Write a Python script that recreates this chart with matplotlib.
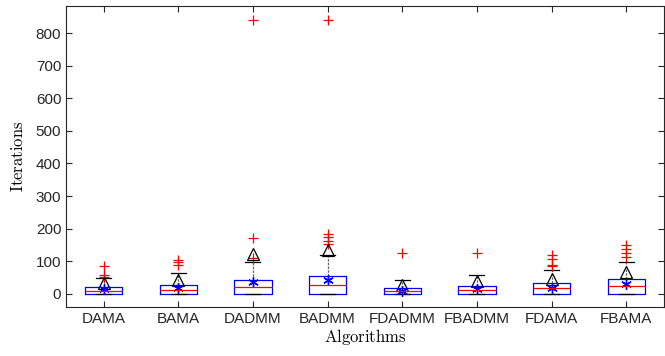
import numpy as np
import matplotlib.pyplot as plt

plt.rcParams['mathtext.fontset'] = 'cm'

algorithms = ['DAMA', 'BAMA', 'DADMM', 'BADMM', 'FDADMM', 'FBADMM', 'FDAMA', 'FBAMA']

# box statistics
whisker_lo = [0, 0, 0, 0, 0, 0, 0, 0]
q1 = [1, 1, 1, 1, 1, 1, 1, 1]
medians = [9, 13, 20, 28, 10, 13, 17, 25]
q3 = [20, 28, 42, 54, 18, 24, 34, 46]
whisker_hi = [48, 63, 97, 120, 43, 57, 72, 99]
outliers = [
    [53, 57, 84],
    [89, 97, 104],
    [110, 171, 840],
    [153, 163, 174, 184, 840],
    [125],
    [125],
    [84, 90, 108, 118],
    [113, 125, 137, 150],
]
means = [14, 17, 35, 43, 10, 14, 19, 31]
triangles = [33, 41, 122, 133, 28, 38, 47, 67]

stats = []
for i, name in enumerate(algorithms):
    stats.append(dict(label=name, whislo=whisker_lo[i], q1=q1[i], med=medians[i],
                      q3=q3[i], whishi=whisker_hi[i], fliers=outliers[i]))

fig = plt.figure(figsize=(6.65, 3.56), dpi=100)
ax = fig.add_axes([0.0995, 0.138, 0.8985, 0.845])

pos = np.arange(1, len(algorithms) + 1)
ax.bxp(stats, positions=pos, widths=0.5,
       boxprops=dict(color='blue', linewidth=0.9),
       medianprops=dict(color='red', linewidth=0.9),
       whiskerprops=dict(color='#666666', linewidth=0.9, linestyle=(0, (2, 1))),
       capprops=dict(color='black', linewidth=0.9),
       capwidths=0.2,
       flierprops=dict(marker='+', markeredgecolor='red', markersize=7, markeredgewidth=0.9))

ax.plot(pos, triangles, linestyle='none', marker='^', markersize=8.5,
        markerfacecolor='none', markeredgecolor='black', markeredgewidth=0.9)
ax.plot(pos, means, linestyle='none', marker=(6, 2, 0), markersize=7.5,
        color='blue', markeredgewidth=1.0)

ax.set_xlim(0.5, 8.5)
ax.set_ylim(-40, 883)
ax.set_yticks(np.arange(0, 801, 100))
ax.set_xticks(pos)
ax.set_xticklabels(algorithms)

for s in ax.spines.values():
    s.set_color('#262626')
    s.set_linewidth(0.8)
ax.tick_params(direction='in', top=True, right=True, length=4.5, width=0.8,
               color='#262626', labelsize=11, labelcolor='#262626')
for lab in ax.get_xticklabels() + ax.get_yticklabels():
    lab.set_family(['Liberation Sans', 'DejaVu Sans'])

ax.set_xlabel(r'$\mathrm{Algorithms}$', fontsize=12, labelpad=1)
ax.set_ylabel(r'$\mathrm{Iterations}$', fontsize=12, labelpad=6)

fig.savefig('out.png', dpi=100)
